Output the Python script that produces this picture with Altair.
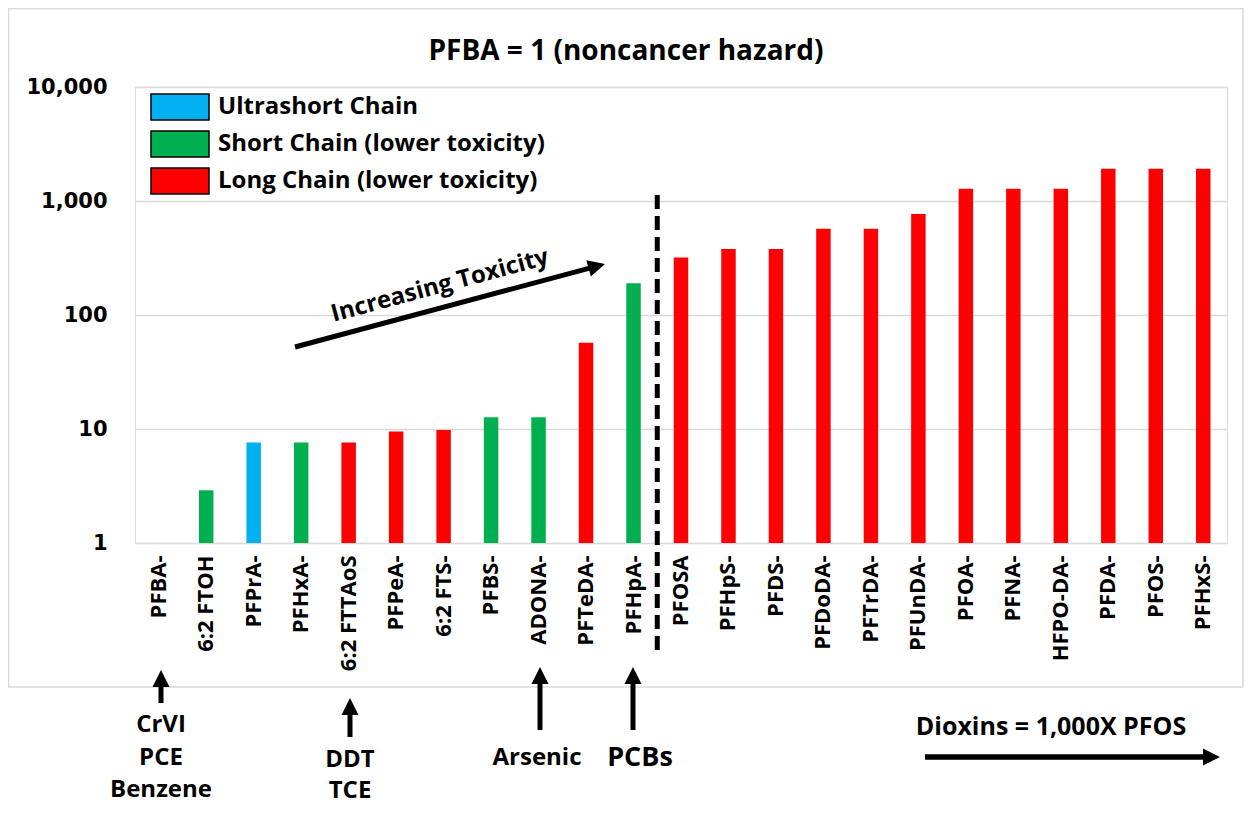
import altair as alt
import pandas as pd

# ---------------- data ----------------
categories = ["PFBA-", "6:2 FTOH", "PFPrA-", "PFHxA-", "6:2 FTTAoS", "PFPeA-", "6:2 FTS-",
              "PFBS-", "ADONA-", "PFTeDA-", "PFHpA-", "PFOSA", "PFHpS-", "PFDS-", "PFDoDA-",
              "PFTrDA-", "PFUnDA-", "PFOA-", "PFNA-", "HFPO-DA-", "PFDA-", "PFOS-", "PFHxS-"]
values = [1, 2.9, 7.6, 7.6, 7.6, 9.5, 9.8, 12.7, 12.7, 57, 190, 320, 380, 380, 570,
          570, 770, 1280, 1280, 1280, 1920, 1920, 1920]
U = "Ultrashort Chain"
S = "Short Chain (lower toxicity)"
L = "Long Chain (lower toxicity)"
groups = [S, S, U, S, L, L, L, S, S, L, S, L, L, L, L, L, L, L, L, L, L, L, L]
group_order = [U, S, L]
group_colors = ["#00B0F0", "#00B050", "#FF0000"]
y_ticks = [1, 10, 100, 1000, 10000]

df = pd.DataFrame({"Chemical": categories, "Ratio": values, "Group": groups})
one = pd.DataFrame({"a": [0]})

W, H = 1092, 456
FONT = "Open Sans"

bars = alt.Chart(df).mark_bar().encode(
    x=alt.X("Chemical:N", sort=categories,
            scale=alt.Scale(paddingInner=0.695, paddingOuter=0.3475),
            axis=alt.Axis(title=None, labelAngle=270, labelAlign="right", labelBaseline="middle",
                          labelFont=FONT, labelFontWeight="bold", labelFontSize=22,
                          labelColor="black", labelPadding=12, domain=False, ticks=False,
                          grid=False, labelLimit=300)),
    y=alt.Y("Ratio:Q", stack=None, scale=alt.Scale(type="log", domain=[1, 10000]),
            axis=alt.Axis(title=None, values=y_ticks, format=",", labelFont="DejaVu Sans",
                          labelFontWeight="bold", labelFontSize=21, labelColor="black",
                          labelPadding=28, domain=False, ticks=False, grid=True,
                          gridColor="#d9d9d9", gridWidth=1.5)),
    y2=alt.datum(1),
    color=alt.Color("Group:N", scale=alt.Scale(domain=group_order, range=group_colors),
                    legend=alt.Legend(title=None, orient="none", legendX=31, legendY=6,
                                      symbolType="M-2.23,-1L2.23,-1L2.23,1L-2.23,1Z",
                                      symbolSize=676, symbolStrokeColor="black",
                                      symbolStrokeWidth=1.5, symbolOpacity=1,
                                      labelFont=FONT, labelFontWeight="bold", labelFontSize=24,
                                      labelColor="black", labelOffset=24, rowPadding=5,
                                      labelLimit=600, padding=0)),
)

frame = alt.Chart(one).mark_rect(fillOpacity=0, stroke="#d9d9d9", strokeWidth=1.5).encode(
    x=alt.value(-126.5), x2=alt.value(1108), y=alt.value(-78.5), y2=alt.value(600))

divider = alt.Chart(one).mark_rule(color="black", strokeWidth=5, strokeDash=[14, 7]).encode(
    x=alt.value(W / len(categories) * 11), y=alt.value(108), y2=alt.value(568))


def label(text, x, y, size=24, angle=0):
    return alt.Chart(one).mark_text(text=text, font=FONT, fontWeight="bold", fontSize=size,
                                    color="black", align="center", baseline="middle",
                                    angle=angle).encode(x=alt.value(x), y=alt.value(y))


def shaft(x1, y1, x2, y2, w=5):
    return alt.Chart(one).mark_rule(color="black", strokeWidth=w).encode(
        x=alt.value(x1), y=alt.value(y1), x2=alt.value(x2), y2=alt.value(y2))


def head(x, y, angle):
    return alt.Chart(one).mark_point(shape="M0,-1L1,1L-1,1Z", filled=True, size=289,
                                     color="black", opacity=1, strokeWidth=0,
                                     angle=angle).encode(x=alt.value(x), y=alt.value(y))


def up_arrow(x, tip, tail):
    return [shaft(x, tail, x, tip + 12), head(x, tip + 8.5, 0)]


annotations = [
    label("PFBA = 1 (noncancer hazard)", 491, -35, 28),
    label("Increasing Toxicity", 305, 199, 24, 345),
    shaft(160, 260, 458.4, 180.1), head(461.8, 179.2, 75),
    label("CrVI", 26, 638), label("PCE", 26, 671), label("Benzene", 26, 703),
    label("DDT", 215, 673), label("TCE", 215, 704),
    label("Arsenic", 402, 671), label("PCBs", 505, 671, 27),
    label("Dioxins = 1,000X PFOS", 916, 640, 25),
    shaft(790, 670, 1073, 670, 5.5), head(1076.5, 670, 90),
]
annotations += up_arrow(26, 583, 616)
annotations += up_arrow(215, 611, 650)
annotations += up_arrow(405, 580, 643)
annotations += up_arrow(498, 580, 643)

chart = alt.layer(frame, bars, divider, *annotations).properties(
    width=W, height=H,
    autosize=alt.AutoSizeParams(type="none"),
    padding={"left": 127, "top": 79, "right": 17, "bottom": 263},
).configure_view(strokeWidth=0).configure(background="white")

chart.save("out.html", embed_options={"renderer": "svg", "actions": False})
